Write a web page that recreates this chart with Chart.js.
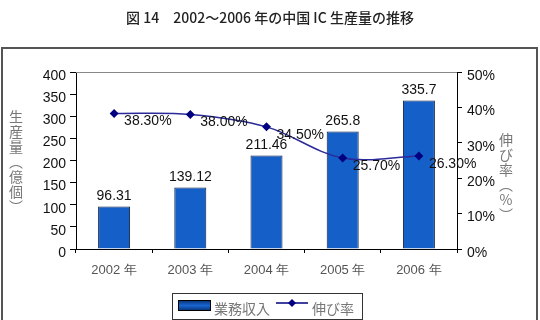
<!DOCTYPE html>
<html>
<head>
<meta charset="utf-8">
<script src="https://cdn.jsdelivr.net/npm/chart.js@4"></script>
<style>
  html, body { margin: 0; padding: 0; background: #fff; }
  #wrap { width: 540px; height: 320px; position: relative; }
</style>
</head>
<body>
<div id="wrap"><canvas id="icChart" width="540" height="320"></canvas></div>
<script>
// data
const years = ['2002 年', '2003 年', '2004 年', '2005 年', '2006 年'];
const output = [96.31, 139.12, 211.46, 265.8, 335.7];
const growth = [38.3, 38.0, 34.5, 25.7, 26.3];
const outputLabels = ['96.31', '139.12', '211.46', '265.8', '335.7'];
const growthLabels = ['38.30%', '38.00%', '34.50%', '25.70%', '26.30%'];

const titleText = '図 14　2002～2006 年の中国 IC 生産量の推移';
const leftTitle = '生産量（億個）';
const rightTitle = '伸び率（%）';
const barLegend = '業務収入';
const lineLegend = '伸び率';

const sansFont = '"Liberation Sans", Arial, sans-serif';
const cjkFont = '"Noto Sans CJK JP", sans-serif';

function barGradient(ctx, chart) {
    const el = ctx.element;
    if (!el || !el.width) return '#1560c8';
    const x0 = el.x - el.width / 2;
    const g = chart.ctx.createLinearGradient(x0, 0, x0 + el.width, 0);
    g.addColorStop(0, '#052c6c');
    g.addColorStop(0.45, '#1966d2');
    g.addColorStop(0.6, '#1966d2');
    g.addColorStop(1, '#052c6c');
    return g;
}

// frame, title, side titles, value labels and legend
const decorations = {
    id: 'decorations',
    beforeDraw(chart) {
        const c = chart.ctx;
        c.save();
        c.fillStyle = '#fff';
        c.fillRect(0, 0, chart.width, chart.height);
        c.fillStyle = '#222';
        c.font = '500 14px ' + cjkFont;
        c.textAlign = 'center';
        c.textBaseline = 'middle';
        c.fillText(titleText, 270, 18);
        c.strokeStyle = '#555';
        c.lineWidth = 2;
        c.strokeRect(2, 48, 535, 290);
        c.restore();
    },
    afterDraw(chart) {
        const c = chart.ctx;
        const area = chart.chartArea;
        c.save();

        // plot area top border
        c.strokeStyle = '#888';
        c.lineWidth = 1;
        c.beginPath();
        c.moveTo(area.left, area.top + 0.5);
        c.lineTo(area.right, area.top + 0.5);
        c.stroke();

        // vertical axis titles, brackets in vertical form
        c.fillStyle = '#777';
        c.font = '14px ' + cjkFont;
        c.textAlign = 'center';
        c.textBaseline = 'middle';
        const drawVertical = (text, x, y0, step) => {
            [...text].forEach((ch, i) => {
                const glyph = ch === '（' ? '\uFE35' : ch === '）' ? '\uFE36' : ch;
                c.fillText(glyph, x, y0 + i * step);
            });
        };
        drawVertical(leftTitle, 16, 117, 15);
        drawVertical(rightTitle, 506, 140, 15);

        // bar value labels
        c.fillStyle = '#111';
        c.font = '14px ' + sansFont;
        c.textBaseline = 'bottom';
        chart.getDatasetMeta(0).data.forEach((bar, i) => {
            c.fillText(outputLabels[i], bar.x, bar.y - 3);
        });

        // line value labels
        c.textAlign = 'left';
        c.textBaseline = 'middle';
        chart.getDatasetMeta(1).data.forEach((pt, i) => {
            c.fillText(growthLabels[i], pt.x + 10, pt.y + 8);
        });

        // legend
        const lx = 172, ly = 293, lw = 190, lh = 26;
        c.fillStyle = '#fff';
        c.fillRect(lx, ly, lw, lh);
        c.strokeStyle = '#333';
        c.lineWidth = 1;
        c.strokeRect(lx + 0.5, ly + 0.5, lw, lh);
        const sw = c.createLinearGradient(0, ly + 7, 0, ly + 18);
        sw.addColorStop(0, '#052c6c');
        sw.addColorStop(0.5, '#1966d2');
        sw.addColorStop(1, '#052c6c');
        c.fillStyle = sw;
        c.fillRect(lx + 6, ly + 7, 32, 10);
        c.strokeStyle = '#000';
        c.strokeRect(lx + 6.5, ly + 7.5, 32, 10);
        c.fillStyle = '#777';
        c.font = '14px ' + cjkFont;
        c.textBaseline = 'middle';
        c.fillText(barLegend, lx + 42, ly + 16);
        c.strokeStyle = '#000080';
        c.lineWidth = 1.5;
        c.beginPath();
        c.moveTo(lx + 104, ly + 10);
        c.lineTo(lx + 136, ly + 10);
        c.stroke();
        c.fillStyle = '#000080';
        c.beginPath();
        c.moveTo(lx + 120, ly + 6);
        c.lineTo(lx + 124, ly + 10);
        c.lineTo(lx + 120, ly + 14);
        c.lineTo(lx + 116, ly + 10);
        c.closePath();
        c.fill();
        c.fillStyle = '#777';
        c.fillText(lineLegend, lx + 140, ly + 16);

        c.restore();
    }
};

const ctx = document.getElementById('icChart').getContext('2d');

new Chart(ctx, {
    type: 'bar',
    data: {
        labels: years,
        datasets: [
            {
                type: 'bar',
                label: barLegend,
                data: output,
                yAxisID: 'y',
                backgroundColor: (c) => barGradient(c, c.chart),
                borderColor: '#0a1a40',
                borderWidth: 1,
                categoryPercentage: 1,
                barPercentage: 0.42,
                order: 2
            },
            {
                type: 'line',
                label: lineLegend,
                data: growth,
                yAxisID: 'y1',
                borderColor: '#2a2a9a',
                borderWidth: 1.5,
                backgroundColor: '#000080',
                pointStyle: 'rectRot',
                pointRadius: 4.5,
                pointBorderWidth: 0,
                tension: 0.35,
                fill: false,
                order: 1
            }
        ]
    },
    options: {
        responsive: false,
        animation: false,
        layout: { padding: { top: 72, left: 0, right: 0, bottom: 0 } },
        plugins: {
            legend: { display: false },
            tooltip: { enabled: false }
        },
        scales: {
            x: {
                grid: { drawOnChartArea: false, offset: true, tickLength: 4, color: '#000' },
                border: { color: '#000' },
                ticks: { color: '#555', font: { family: sansFont, size: 13 }, padding: 10 },
                afterFit: (s) => { s.height = 71; }
            },
            y: {
                position: 'left',
                min: 0,
                max: 400,
                grid: { drawOnChartArea: false, tickLength: 6, color: '#000' },
                border: { color: '#000' },
                ticks: { stepSize: 50, color: '#111', font: { family: sansFont, size: 14 }, padding: 4, labelOffset: 4 },
                afterFit: (s) => { s.width = 76; }
            },
            y1: {
                position: 'right',
                min: 0,
                max: 50,
                grid: { drawOnChartArea: false, tickLength: 5, color: '#000' },
                border: { color: '#000' },
                ticks: { stepSize: 10, color: '#111', font: { family: sansFont, size: 14 }, padding: 5, labelOffset: 4,
                    callback: (v) => v + '%' },
                afterFit: (s) => { s.width = 83; }
            }
        }
    },
    plugins: [decorations]
});
</script>
</body>
</html>
